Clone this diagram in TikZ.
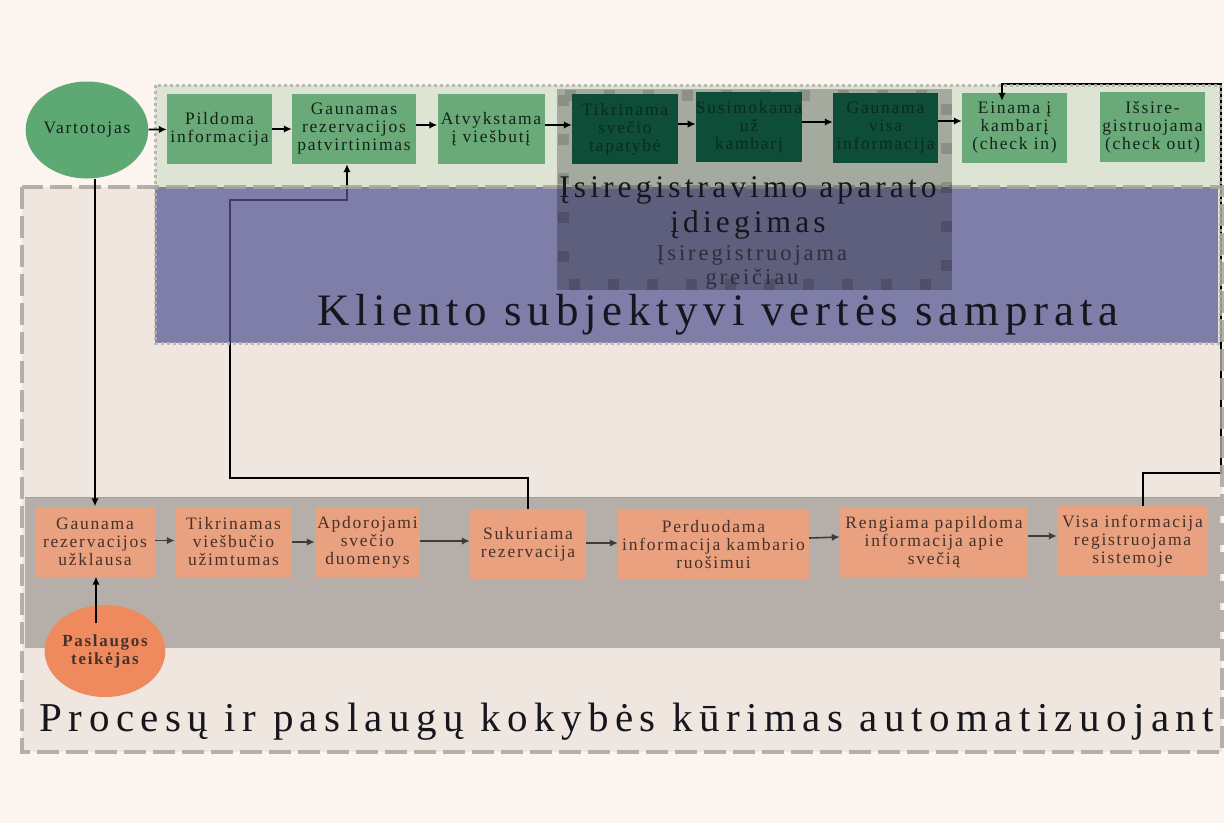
\documentclass[tikz,border=0pt]{standalone}
\usepackage{fontspec}
\setmainfont{Liberation Serif}
\newfontfamily\boxserif[LetterSpace=10]{Liberation Serif}
\newfontfamily\titleserif[LetterSpace=13]{Liberation Serif}
\newfontfamily\wideserif[LetterSpace=15.7]{Liberation Serif}
\usetikzlibrary{arrows.meta,shapes.geometric}

\definecolor{pagebg}{RGB}{252,245,239}
\definecolor{outerfill}{RGB}{239,230,223}
\definecolor{outeredge}{RGB}{170,164,159}
\definecolor{upperfill}{RGB}{221,228,211}
\definecolor{upperedge}{RGB}{178,178,168}
\definecolor{bluefill}{RGB}{87,83,151}
\definecolor{bandfill}{RGB}{181,174,169}
\definecolor{bandedge}{RGB}{165,157,152}
\definecolor{greenbox}{RGB}{106,170,120}
\definecolor{greencirc}{RGB}{93,168,115}
\definecolor{greentext}{RGB}{20,34,24}
\definecolor{darkgreen}{RGB}{14,77,56}
\definecolor{darkgreentext}{RGB}{8,44,31}
\definecolor{orangebox}{RGB}{233,161,127}
\definecolor{orangecirc}{RGB}{239,138,94}
\definecolor{orangetext}{RGB}{70,50,43}
\definecolor{titletext}{RGB}{22,22,30}
\definecolor{subtext}{RGB}{46,46,60}
\definecolor{bandarrow}{RGB}{60,60,60}

\tikzset{
  boxfont/.style={font=\boxserif\fontsize{17.5}{18}\selectfont, align=center},
  stagebox/.style={boxfont, rectangle, inner sep=0pt, minimum width=#1, minimum height=70},
  clientbox/.style={stagebox=#1, fill=greenbox, text=greentext},
  kioskbox/.style={stagebox=#1, fill=darkgreen, text=darkgreentext},
  staffbox/.style={stagebox=#1, fill=orangebox, text=orangetext},
  actor/.style={ellipse, inner sep=0pt, minimum width=106, minimum height=#1, boxfont},
  flow/.style={line width=1.7pt, -{Latex[length=8pt,width=7.5pt]}},
  bandflow/.style={line width=1.6pt, draw=bandarrow, -{Latex[length=8pt,width=7.5pt]}, bandarrow},
  link/.style={line width=1.5pt, black},
}

\begin{document}
\begin{tikzpicture}[x=1pt,y=-1pt]
  \useasboundingbox (0,0) rectangle (1224,823);
  \fill[pagebg] (0,0) rectangle (1224,823);

  % service-side area and client-side area
  \fill[outerfill] (22,187) rectangle (1222,752);
  \fill[upperfill] (155,85) rectangle (1220,343);
  \fill[bandfill] (25,497) rectangle (1220,648);
  \draw[bandedge, line width=1pt] (25,497) -- (1220,497);

  % actors
  \node[actor=97, fill=greencirc, text=greentext] (vart) at (87,130) {Vartotojas};
  \node[actor=92, fill=orangecirc, text=orangetext, font=\boxserif\bfseries\fontsize{17}{18}\selectfont] (past) at (105,651) {Paslaugos\\teikėjas};

  % client stages
  \node[clientbox=105] (pild) at (219.5,129) {Pildoma\\informacija};
  \node[clientbox=124] (gaun) at (354,129) {Gaunamas\\rezervacijos\\patvirtinimas};
  \node[clientbox=107] (atv) at (491,129) {Atvykstama\\į viešbutį};
  \node[clientbox=105] (ein) at (1014.5,128) {Einama į\\kambarį\\(check in)};
  \node[clientbox=105] (issi) at (1152.5,127) {Išsire-\\gistruojama\\(check out)};

  % service stages
  \node[staffbox=120] (guz) at (95,541.5) {Gaunama\\rezervacijos\\užklausa};
  \node[staffbox=117] (tvu) at (233.5,542) {Tikrinamas\\viešbučio\\užimtumas};
  \node[staffbox=105] (adu) at (367.5,542) {Apdorojami\\svečio\\duomenys};
  \node[staffbox=116] (suk) at (528,544) {Sukuriama\\rezervacija};
  \node[staffbox=191] (per) at (713.5,544.5) {Perduodama\\informacija kambario\\ruošimui};
  \node[staffbox=188] (ren) at (934,542) {Rengiama papildoma\\informacija apie\\svečią};
  \node[staffbox=151] (visa) at (1132.5,541) {Visa informacija\\registruojama\\sistemoje};

  % feedback links running behind the client band
  \coordinate (sukup) at (528,478);
  \coordinate (sukleft) at (230,478);
  \coordinate (sukhigh) at (230,200);
  \coordinate (gaunlow) at (347,200);
  \draw[link, -{Latex[length=8pt,width=7.5pt]}] (suk.north) -- (sukup) -- (sukleft) -- (sukhigh) -- (gaunlow) -- ([xshift=-7pt]gaun.south);

  \coordinate (visaup) at (1143,473);
  \coordinate (visaright) at (1221,473);
  \coordinate (topright) at (1221,84);
  \coordinate (einabove) at (1002,84);
  \draw[line width=1.8pt, -{Latex[length=8pt,width=7.5pt]}] (visaup |- visa.north) -- (visaup) -- (visaright) -- (topright) -- (einabove) -- ([xshift=-12.5pt,yshift=-8pt]ein.north);

  % client perception band
  \fill[bluefill, opacity=0.7] (155,187) rectangle (1218,343);
  \node[font=\titleserif\fontsize{45}{50}\selectfont, text=titletext] (kliento) at (718,315) {Kliento subjektyvi vertės samprata};

  % borders of both areas
  \draw[upperedge, line width=3pt, dash pattern=on 3pt off 3pt, opacity=0.85] (155,85) rectangle (1220,343);
  \draw[outeredge, line width=3.8pt, dash pattern=on 22pt off 7pt, opacity=0.85] (22,187) rectangle (1222,752);

  % check-in kiosk area
  \fill[black, opacity=0.25] (557,89) rectangle (952,290);
  \draw[black, opacity=0.15, line width=11pt, dash pattern=on 11pt off 28pt] (563,95) rectangle (946,284);
  \node[kioskbox=106] (tikr) at (625,129) {Tikrinama\\svečio\\tapatybė};
  \node[kioskbox=106] (sus) at (749,127) {Susimokama\\už\\kambarį};
  \node[kioskbox=105] (gvi) at (885.5,128) {Gaunama\\visa\\informacija};
  \node[align=center, font=\titleserif\fontsize{31.5}{35}\selectfont, text=titletext] (aparatas) at (748,208) {Įsiregistravimo aparato\\įdiegimas};
  \node[align=center, font=\titleserif\fontsize{22.5}{24}\selectfont, text=subtext] (greiciau) at (752,267) {Įsiregistruojama\\greičiau};

  \node[font=\wideserif\fontsize{41}{46}\selectfont, text=titletext] (procesu) at (627,722) {Procesų ir paslaugų kokybės kūrimas automatizuojant};

  % client flow
  \draw[flow] (vart) -- (pild);
  \draw[flow] ([yshift=0pt]pild.east) -- (gaun.west);
  \draw[flow] ([yshift=4pt]gaun.east) -- ([yshift=4pt]atv.west);
  \draw[flow] ([yshift=4pt]atv.east) -- ([yshift=4pt]tikr.west);
  \draw[flow] ([yshift=5pt]tikr.east) -- ([yshift=3pt]sus.west);
  \draw[flow] ([yshift=5pt]sus.east) -- ([yshift=6pt]gvi.west);
  \draw[flow] ([yshift=7pt]gvi.east) -- ([yshift=7pt]ein.west);
  \draw[flow] (vart.south -| guz.north) -- (guz.north);

  % service flow
  \draw[bandflow] ([yshift=1pt]guz.east) -- ([yshift=1.5pt]tvu.west);
  \draw[bandflow] (tvu.east) -- (adu.west);
  \draw[bandflow] ([yshift=1pt]adu.east) -- ([yshift=3pt]suk.west);
  \draw[bandflow] ([yshift=1pt]suk.east) -- ([yshift=1.5pt]per.west);
  \draw[bandflow] ([yshift=6.5pt]per.east) -- ([yshift=5pt]ren.west);
  \draw[bandflow] ([yshift=6pt]ren.east) -- ([yshift=5pt]visa.west);
  \coordinate (pastin) at (96,623);
  \draw[flow] (pastin) -- (guz.south -| pastin);
\end{tikzpicture}
\end{document}
